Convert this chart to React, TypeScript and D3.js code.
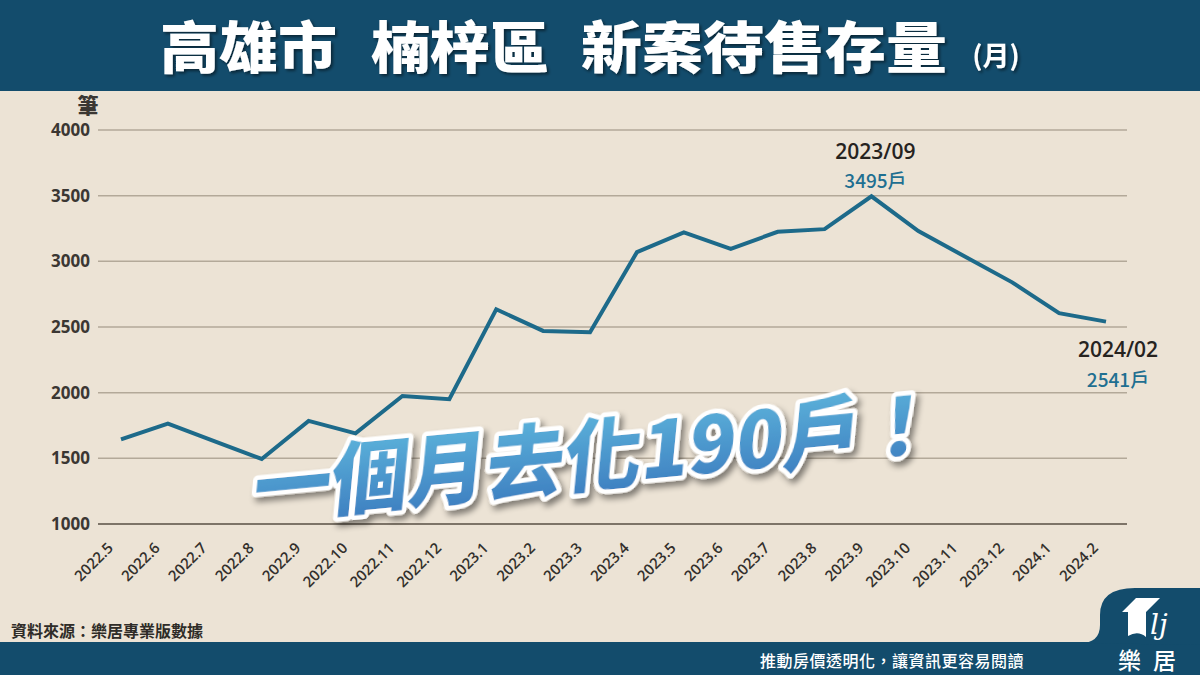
import React, { useRef, useEffect } from 'react';
import * as d3 from 'd3';

const MONTHS: string[] = [
  '2022.5', '2022.6', '2022.7', '2022.8', '2022.9', '2022.10', '2022.11', '2022.12',
  '2023.1', '2023.2', '2023.3', '2023.4', '2023.5', '2023.6', '2023.7', '2023.8',
  '2023.9', '2023.10', '2023.11', '2023.12', '2024.1', '2024.2',
];
const STOCK: number[] = [
  1645, 1765, 1630, 1495, 1785, 1690, 1975, 1950,
  2635, 2470, 2460, 3070, 3220, 3095, 3225, 3245,
  3495, 3230, 3035, 2840, 2605, 2541,
];
const Y_TICKS: number[] = [1000, 1500, 2000, 2500, 3000, 3500, 4000];

const TITLE_PARTS: string[] = ['高雄市', '楠梓區', '新案待售存量'];
const SLOGAN = '一個月去化190戶！';

const W = 1200;
const H = 675;
const BLUE = '#134c6c';
const BG = '#ece3d5';
const LINE = '#1d6a8a';
const CJK = '"Noto Sans CJK TC", "Noto Sans", sans-serif';
const LATIN = '"Open Sans", "Noto Sans", sans-serif';

const App: React.FC = () => {
  const svgRef = useRef<SVGSVGElement>(null);

  useEffect(() => {
    document.body.style.margin = '0';
    if (!svgRef.current) return;

    const svg = d3.select(svgRef.current);
    svg.selectAll('*').remove();

    const x = d3.scalePoint<string>().domain(MONTHS).range([121, 1106]);
    const y = d3.scaleLinear().domain([1000, 4000]).range([524, 130]);

    const defs = svg.append('defs');
    const grad = defs.append('linearGradient')
      .attr('id', 'sloganFill')
      .attr('x1', '0').attr('y1', '0').attr('x2', '0').attr('y2', '1');
    grad.append('stop').attr('offset', '0%').attr('stop-color', '#62bde0');
    grad.append('stop').attr('offset', '100%').attr('stop-color', '#3a78bd');

    const shadow = defs.append('filter').attr('id', 'drop')
      .attr('x', '-10%').attr('y', '-30%').attr('width', '120%').attr('height', '160%');
    shadow.append('feDropShadow')
      .attr('dx', 4).attr('dy', 5).attr('stdDeviation', 3)
      .attr('flood-color', '#000').attr('flood-opacity', 0.45);

    const tshadow = defs.append('filter').attr('id', 'tdrop');
    tshadow.append('feDropShadow')
      .attr('dx', 2).attr('dy', 2).attr('stdDeviation', 1.5)
      .attr('flood-color', '#000').attr('flood-opacity', 0.5);

    // background + bands
    svg.append('rect').attr('width', W).attr('height', H).attr('fill', BG);
    svg.append('rect').attr('width', W).attr('height', 91).attr('fill', BLUE);
    svg.append('rect').attr('y', 642).attr('width', W).attr('height', 33).attr('fill', BLUE);
    svg.append('path')
      .attr('d', 'M1080,643 Q1100,643 1100,625 L1100,615 Q1100,588 1135,588 L1200,588 L1200,645 Z')
      .attr('fill', BLUE);

    // title, three words with their measured extents
    const titleSpans = [[160, 177], [371, 178], [581, 366]];
    svg.append('g')
      .selectAll('text')
      .data(TITLE_PARTS)
      .join('text')
      .attr('x', (_, i) => titleSpans[i][0])
      .attr('y', 68)
      .attr('textLength', (_, i) => titleSpans[i][1])
      .attr('lengthAdjust', 'spacingAndGlyphs')
      .attr('font-family', CJK)
      .attr('font-weight', 900)
      .attr('font-size', 56)
      .attr('fill', '#fff')
      .attr('filter', 'url(#tdrop)')
      .text(d => d);
    svg.append('text')
      .attr('x', 996).attr('y', 66)
      .attr('text-anchor', 'middle')
      .attr('font-family', CJK)
      .attr('font-weight', 700)
      .attr('font-size', 27)
      .attr('fill', '#fff')
      .attr('filter', 'url(#tdrop)')
      .text('(月)');

    // grid
    svg.append('g')
      .selectAll('line')
      .data(Y_TICKS)
      .join('line')
      .attr('x1', 98)
      .attr('x2', 1127)
      .attr('y1', d => y(d))
      .attr('y2', d => y(d))
      .attr('stroke', d => (d === 1000 ? '#7d7468' : '#b3a999'))
      .attr('stroke-width', d => (d === 1000 ? 2 : 1.5));

    // y labels
    svg.append('g')
      .selectAll('text')
      .data(Y_TICKS)
      .join('text')
      .attr('x', 90)
      .attr('y', d => y(d) + 6)
      .attr('text-anchor', 'end')
      .attr('font-family', LATIN)
      .attr('font-weight', 700)
      .attr('font-size', 17)
      .attr('fill', '#3b3733')
      .text(d => String(d));

    svg.append('text')
      .attr('x', 88).attr('y', 113)
      .attr('text-anchor', 'middle')
      .attr('font-family', CJK)
      .attr('font-weight', 900)
      .attr('font-size', 21)
      .attr('fill', '#3b3733')
      .text('筆');

    // x labels
    svg.append('g')
      .selectAll('text')
      .data(MONTHS)
      .join('text')
      .attr('transform', d => `translate(${x(d)! - 7},${549}) rotate(-45)`)
      .attr('text-anchor', 'end')
      .attr('font-family', LATIN)
      .attr('font-weight', 600)
      .attr('font-size', 15)
      .attr('fill', '#33302c')
      .text(d => d);

    // line
    const line = d3.line<number>()
      .x((_, i) => x(MONTHS[i])!)
      .y(d => y(d));
    svg.append('path')
      .datum(STOCK)
      .attr('d', line)
      .attr('fill', 'none')
      .attr('stroke', LINE)
      .attr('stroke-width', 4)
      .attr('stroke-linejoin', 'miter');

    // annotations
    const peakI = STOCK.indexOf(d3.max(STOCK)!);
    const lastI = STOCK.length - 1;
    const notes = [
      { i: peakI, date: '2023/09', dy1: -37, dy2: -8, dx: 4 },
      { i: lastI, date: '2024/02', dy1: 35, dy2: 65, dx: 12 },
    ];
    notes.forEach(n => {
      const cx = x(MONTHS[n.i])! + n.dx;
      const cy = y(STOCK[n.i]);
      svg.append('text')
        .attr('x', cx).attr('y', cy + n.dy1)
        .attr('text-anchor', 'middle')
        .attr('font-family', LATIN)
        .attr('font-weight', 600)
        .attr('font-size', 21)
        .attr('fill', '#26231f')
        .text(n.date);
      svg.append('text')
        .attr('x', cx).attr('y', cy + n.dy2)
        .attr('text-anchor', 'middle')
        .attr('font-family', CJK)
        .attr('font-weight', 500)
        .attr('font-size', 19)
        .attr('fill', '#1f6f91')
        .text(`${STOCK[n.i]}戶`);
    });

    // slogan
    const sg = svg.append('g').attr('transform', 'translate(594,484) rotate(-5.5) skewX(-11)');
    sg.append('text')
      .attr('text-anchor', 'middle')
      .attr('font-family', CJK)
      .attr('font-weight', 900)
      .attr('font-size', 78)
      .attr('fill', 'url(#sloganFill)')
      .attr('stroke', '#fff')
      .attr('stroke-width', 9)
      .attr('stroke-linejoin', 'round')
      .attr('paint-order', 'stroke')
      .attr('filter', 'url(#drop)')
      .text(SLOGAN);

    // footer
    svg.append('text')
      .attr('x', 11).attr('y', 637)
      .attr('font-family', CJK)
      .attr('font-weight', 700)
      .attr('font-size', 16)
      .attr('fill', '#2f2c28')
      .text('資料來源：樂居專業版數據');

    svg.append('text')
      .attr('x', 1024).attr('y', 667)
      .attr('text-anchor', 'end')
      .attr('font-family', CJK)
      .attr('font-weight', 500)
      .attr('font-size', 16)
      .attr('fill', '#fff')
      .attr('letter-spacing', 0.5)
      .text('推動房價透明化，讓資訊更容易閱讀');

    // logo
    const logo = svg.append('g').attr('fill', '#fff');
    logo.append('path')
      .attr('d', 'M1122,612 L1136,598 L1160,598 L1146,612 L1146,637 Q1138,630 1128,636 L1128,612 Z');
    logo.append('text')
      .attr('x', 1150).attr('y', 634)
      .attr('font-family', 'DejaVu Serif, serif')
      .attr('font-style', 'italic')
      .attr('font-size', 28)
      .text('lj');
    logo.append('text')
      .attr('x', 1153).attr('y', 669)
      .attr('text-anchor', 'middle')
      .attr('font-family', CJK)
      .attr('font-weight', 500)
      .attr('font-size', 23)
      .attr('letter-spacing', 12)
      .text('樂居');
  }, []);

  return <svg ref={svgRef} width={W} height={H} style={{ display: 'block' }} />;
};

export default App;
